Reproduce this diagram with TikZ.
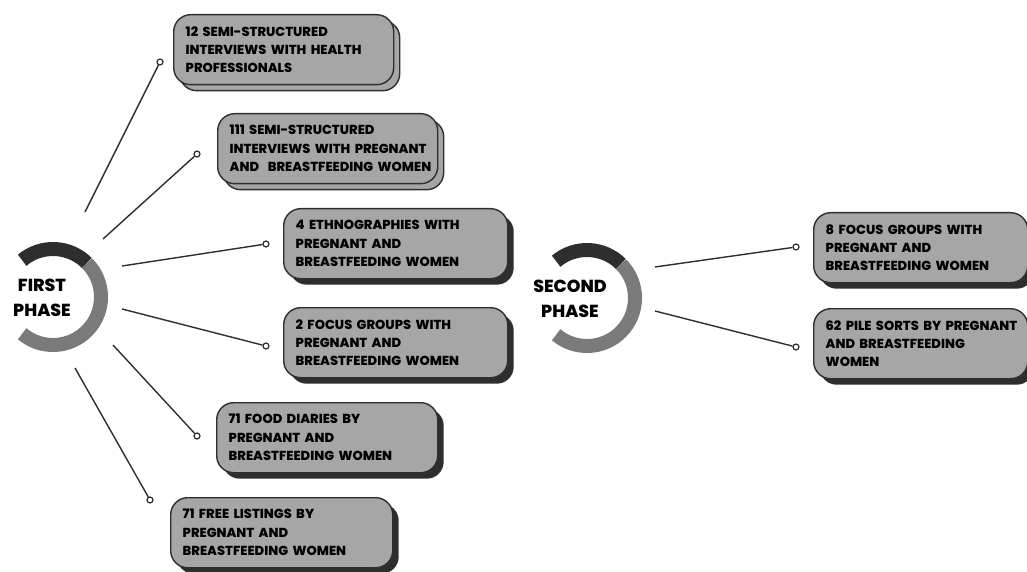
\documentclass[tikz,border=0pt]{standalone}
\usepackage{fontspec}
\setmainfont{Poppins}[BoldFont={Poppins ExtraBold}]
\usetikzlibrary{shadows}

\definecolor{boxgray}{HTML}{A6A6A6}
\definecolor{darkline}{HTML}{2E2E2E}
\definecolor{ringlight}{HTML}{7A7A7A}

\tikzset{
  activity/.style={draw=darkline, line width=1.4bp, fill=boxgray, rounded corners=17bp,
    anchor=north west, minimum height=70bp, inner xsep=12bp, text width=196bp,
    align=left, font=\bfseries\fontsize{13.1}{18.5}\selectfont},
  shadowed/.style={activity, drop shadow={shadow xshift=6bp, shadow yshift=-6bp, fill=darkline, opacity=1}},
  layered/.style={activity, copy shadow={shadow xshift=6bp, shadow yshift=-6bp}},
  phase/.style={align=center, font=\bfseries\fontsize{17.5}{25}\selectfont},
  dot/.style={circle, draw=darkline, fill=white, line width=1.2bp, inner sep=0pt, minimum size=6bp},
  link/.style={draw=darkline, line width=1.4bp},
  ringdark/.style={draw=darkline, line width=14bp},
  ringgray/.style={draw=ringlight, line width=14bp}
}

\begin{document}
\begin{tikzpicture}[x=1bp, y=-1bp]
  \useasboundingbox (0,0) rectangle (1027,572);

  % first phase ring
  \coordinate (c1) at (53,297);
  \draw[ringdark] ([shift={(130:48bp)}]c1) arc[start angle=130, end angle=45, radius=48bp];
  \draw[ringgray] ([shift={(45:48bp)}]c1) arc[start angle=45, end angle=-130, radius=48bp];
  \node[phase] (first) at (42,298) {FIRST\\PHASE};

  % second phase ring
  \coordinate (c2) at (587,298);
  \draw[ringdark] ([shift={(130:48bp)}]c2) arc[start angle=130, end angle=45, radius=48bp];
  \draw[ringgray] ([shift={(45:48bp)}]c2) arc[start angle=45, end angle=-130, radius=48bp];
  \node[phase] (second) at (570,299) {SECOND\\PHASE};

  % boxes
  \node[layered, text width=196bp] (hp) at (173,14) {12 SEMI-STRUCTURED\\INTERVIEWS WITH HEALTH\\PROFESSIONALS};
  \node[layered, text width=196bp] (ssi) at (217,113) {111 SEMI-STRUCTURED\\\mbox{INTERVIEWS WITH PREGNANT}\\\mbox{AND\ \ BREASTFEEDING WOMEN}};
  \node[shadowed, text width=200bp] (eth) at (283,208) {4 ETHNOGRAPHIES WITH\\PREGNANT AND\\BREASTFEEDING WOMEN};
  \node[shadowed, text width=200bp] (fg) at (283,307) {2 FOCUS GROUPS WITH\\PREGNANT AND\\BREASTFEEDING WOMEN};
  \node[shadowed, text width=197bp] (fd) at (216,402) {71 FOOD DIARIES BY\\PREGNANT AND\\BREASTFEEDING WOMEN};
  \node[shadowed, text width=198bp] (fl) at (170,497) {71 FREE LISTINGS BY\\PREGNANT AND\\BREASTFEEDING WOMEN};
  \node[shadowed, text width=190bp] (fgb) at (813,212) {8 FOCUS GROUPS WITH\\PREGNANT AND\\BREASTFEEDING WOMEN};
  \node[shadowed, text width=190bp] (ps) at (813,308) {\mbox{62 PILE SORTS BY PREGNANT}\\AND BREASTFEEDING\\WOMEN};

  % connectors
  \coordinate (s1) at (85,212);
  \coordinate (s2) at (103,239);
  \coordinate (s3) at (122,266);
  \coordinate (s4) at (122,309);
  \coordinate (s5) at (113,345);
  \coordinate (s6) at (75,368);
  \coordinate (s7) at (655,267);
  \coordinate (s8) at (655,311);
  \node[dot] (d1) at (160,62) {};
  \node[dot] (d2) at (197,154) {};
  \node[dot] (d3) at (266,244) {};
  \node[dot] (d4) at (266,346) {};
  \node[dot] (d5) at (197,436) {};
  \node[dot] (d6) at (150,500) {};
  \node[dot] (d7) at (796,247) {};
  \node[dot] (d8) at (796,347) {};
  \draw[link] (s1) -- (d1);
  \draw[link] (s2) -- (d2);
  \draw[link] (s3) -- (d3);
  \draw[link] (s4) -- (d4);
  \draw[link] (s5) -- (d5);
  \draw[link] (s6) -- (d6);
  \draw[link] (s7) -- (d7);
  \draw[link] (s8) -- (d8);
\end{tikzpicture}
\end{document}
